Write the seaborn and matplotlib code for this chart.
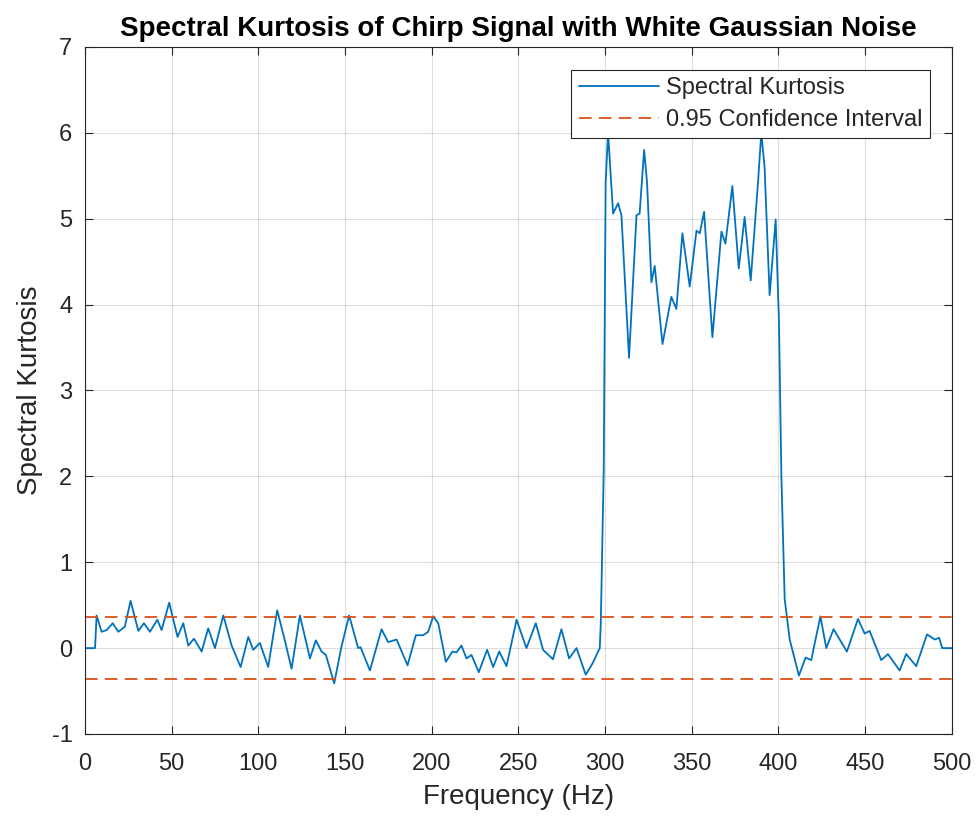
import numpy as np
import pandas as pd
import matplotlib
matplotlib.use("Agg")
import matplotlib.pyplot as plt
import seaborn as sns

# values
freq_hz = [0, 5.8, 6.7, 9.6, 12.5, 16, 19.2, 23, 26.3, 30.8, 34, 37.5, 41.7, 44.2,
           48.6, 53.4, 56.7, 59.6, 62.9, 67.3, 71.1, 75, 79.8, 84.6, 89.8, 94.2,
           97.1, 100.9, 105.7, 110.9, 115.3, 119.2, 124, 129.8, 133.2, 136.5, 139,
           143.8, 148, 152.4, 157.6, 159, 164.4, 171.1, 174.9, 179.8, 186.1, 190.9,
           195.1, 198, 200.9, 203.8, 208.2, 212, 214.3, 217.2, 220.1, 223, 227.2,
           232, 235.5, 239, 243.2, 249, 254.7, 260.1, 264.3, 270, 274.9, 279.3,
           283.6, 288.9, 292.8, 297, 297.6, 299.3, 300.4, 301.8, 304.7, 307.6,
           309.5, 313.9, 318.2, 320, 322.6, 324.3, 326.8, 328.7, 333.2, 338.3,
           341.2, 344.7, 348.9, 352.8, 354.7, 357.2, 362, 367.2, 369.5, 373.5,
           377.2, 380.6, 384.1, 388.3, 390.2, 392.1, 395, 398.5, 400.4, 401.8,
           403.7, 406.6, 411.9, 415.8, 419, 424.3, 427.7, 431.9, 439.6, 446,
           449.8, 452.7, 459.4, 463.3, 470, 473.8, 479.6, 485.8, 490.3, 492.8,
           494.6, 500]
kurtosis = [0, 0, 0.38, 0.19, 0.21, 0.29, 0.19, 0.25, 0.55, 0.2, 0.29, 0.19, 0.33, 0.21,
            0.53, 0.13, 0.29, 0.03, 0.11, -0.04, 0.23, 0, 0.38, 0.03, -0.22, 0.13,
            -0.02, 0.06, -0.22, 0.44, 0.09, -0.24, 0.38, -0.12, 0.09, -0.04, -0.08,
            -0.41, 0.02, 0.38, 0, 0.01, -0.26, 0.22, 0.07, 0.1, -0.2, 0.15,
            0.15, 0.19, 0.37, 0.29, -0.16, -0.04, -0.05, 0.03, -0.12, -0.08, -0.28,
            -0.02, -0.22, -0.04, -0.21, 0.33, 0, 0.29, -0.02, -0.13, 0.22, -0.12,
            0, -0.31, -0.18, 0, 0.29, 2.09, 5.42, 6.0, 5.06, 5.18,
            5.04, 3.38, 5.04, 5.06, 5.8, 5.42, 4.26, 4.45, 3.54, 4.09,
            3.95, 4.83, 4.21, 4.86, 4.83, 5.08, 3.62, 4.85, 4.71, 5.38,
            4.42, 5.02, 4.28, 5.42, 6.0, 5.6, 4.11, 4.99, 3.8, 2.0,
            0.57, 0.1, -0.32, -0.11, -0.14, 0.37, 0, 0.22, -0.04, 0.34,
            0.17, 0.2, -0.14, -0.07, -0.26, -0.07, -0.21, 0.16, 0.1, 0.12,
            0, 0]
conf_level = 0.36

df = pd.DataFrame({"Frequency": freq_hz, "SK": kurtosis})

sns.set_theme(style="whitegrid")
plt.rcParams["font.family"] = ["Liberation Sans", "DejaVu Sans"]
plt.rcParams["axes.unicode_minus"] = False

fig = plt.figure(figsize=(9.78, 8.16), dpi=100)
ax = fig.add_axes([0.0869, 0.1005, 0.8861, 0.842])
ax.set_facecolor("white")

sns.lineplot(data=df, x="Frequency", y="SK", ax=ax, color="#0072BD",
             linewidth=1.3, sort=False, estimator=None, label="Spectral Kurtosis")
ax.axhline(conf_level, color="#D95319", linewidth=1.3, dashes=(7, 4),
           label="0.95 Confidence Interval")
ax.axhline(-conf_level, color="#D95319", linewidth=1.3, dashes=(7, 4))

ax.set_xlim(0, 500)
ax.set_ylim(-1, 7)
ax.set_xticks(np.arange(0, 501, 50))
ax.set_yticks(np.arange(-1, 8, 1))
ax.grid(True, color="#262626", alpha=0.15, linewidth=0.8)
for s in ax.spines.values():
    s.set_visible(True)
    s.set_color("#262626")
    s.set_linewidth(0.8)
ax.tick_params(direction="in", length=6, width=0.8, color="#262626",
               labelsize=17, labelcolor="#262626", top=True, right=True,
               bottom=True, left=True, pad=9)
ax.tick_params(axis="x", pad=14)

ax.set_xlabel("Frequency (Hz)", fontsize=20, color="#262626", labelpad=6)
ax.set_ylabel("Spectral Kurtosis", fontsize=20, color="#262626", labelpad=6)
ax.set_title("Spectral Kurtosis of Chirp Signal with White Gaussian Noise",
             fontsize=20, fontweight="bold", color="black", pad=8)

leg = ax.legend(loc="upper right", bbox_to_anchor=(0.975, 0.9665), fontsize=17,
                frameon=True, fancybox=False, framealpha=1, edgecolor="#262626",
                handlelength=3.4, borderpad=0.32, labelspacing=0.4,
                handletextpad=0.28, borderaxespad=0)
leg.get_frame().set_linewidth(0.8)
for t in leg.get_texts():
    t.set_color("#262626")

fig.savefig("out.png", dpi=100)
